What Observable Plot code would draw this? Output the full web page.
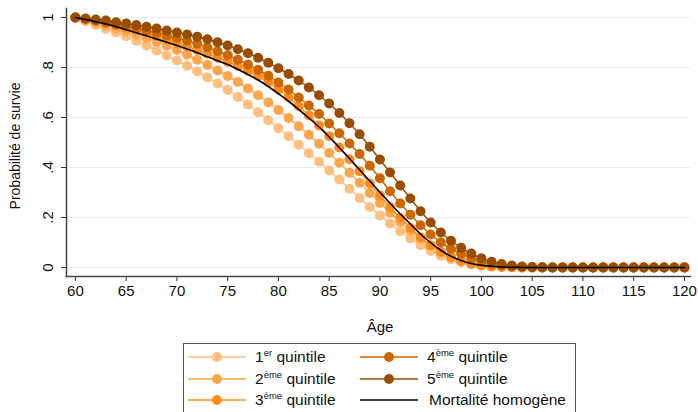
<!DOCTYPE html>
<html>
<head>
<meta charset="utf-8">
<script src="https://cdn.jsdelivr.net/npm/d3@7"></script>
<script src="https://cdn.jsdelivr.net/npm/@observablehq/plot@0.6"></script>
<style>
  body { margin: 0; background: #fff; font-family: "Liberation Sans", Arial, sans-serif; }
  #wrap { width: 698px; height: 412px; overflow: hidden; position: relative; }
  #legend { position: absolute; left: 183px; top: 343px; width: 393px; height: 80px; border: 1px solid #555; box-sizing: border-box; }
  .item { position: absolute; height: 20px; display: flex; align-items: center; font-size: 15.5px; color: #111; white-space: nowrap; }
  .item svg { margin-right: 9px; }
  sup { font-size: 9.5px; vertical-align: 0; position: relative; top: -6px; }
</style>
</head>
<body>
<div id="wrap"><div id="chart"></div><div id="legend"></div></div>
<script>
const ages = [60,61,62,63,64,65,66,67,68,69,70,71,72,73,74,75,76,77,78,79,80,81,82,83,84,85,86,87,88,89,90,91,92,93,94,95,96,97,98,99,100,101,102,103,104,105,106,107,108,109,110,111,112,113,114,115,116,117,118,119,120];

const q1 = [1.000,0.985,0.970,0.955,0.940,0.925,0.907,0.888,0.868,0.848,
            0.828,0.807,0.784,0.760,0.736,0.710,0.682,0.652,0.621,0.589,
            0.557,0.525,0.491,0.457,0.423,0.388,0.352,0.315,0.278,0.242,
            0.208,0.176,0.145,0.116,0.089,0.066,0.047,0.032,0.021,0.013,
            0.008,0.004,0.002,0.001,0,0,0,0,0,0,
            0,0,0,0,0,0,0,0,0,0,0];
const q2 = [1.000,0.990,0.980,0.969,0.957,0.945,0.932,0.918,0.903,0.887,
            0.870,0.851,0.831,0.810,0.788,0.766,0.742,0.716,0.689,0.660,
            0.630,0.598,0.565,0.531,0.495,0.458,0.419,0.379,0.339,0.298,
            0.258,0.219,0.182,0.147,0.115,0.087,0.063,0.044,0.029,0.018,
            0.010,0.005,0.003,0.001,0,0,0,0,0,0,
            0,0,0,0,0,0,0,0,0,0,0];
const q3 = [1.000,0.993,0.986,0.978,0.969,0.959,0.949,0.938,0.926,0.913,
            0.898,0.884,0.870,0.855,0.839,0.823,0.806,0.787,0.766,0.741,
            0.712,0.680,0.645,0.608,0.568,0.525,0.480,0.433,0.385,0.336,
            0.288,0.242,0.198,0.158,0.121,0.089,0.062,0.041,0.026,0.015,
            0.008,0.004,0.002,0.001,0,0,0,0,0,0,
            0,0,0,0,0,0,0,0,0,0,0];
const q4 = [1.000,0.994,0.988,0.981,0.973,0.965,0.957,0.948,0.938,0.928,
            0.918,0.907,0.895,0.881,0.865,0.849,0.831,0.812,0.791,0.767,
            0.740,0.712,0.680,0.648,0.614,0.576,0.537,0.496,0.454,0.407,
            0.357,0.305,0.256,0.211,0.169,0.132,0.100,0.075,0.055,0.037,
            0.024,0.014,0.008,0.004,0.002,0.001,0,0,0,0,
            0,0,0,0,0,0,0,0,0,0,0];
const q5 = [1.000,0.996,0.992,0.988,0.981,0.976,0.970,0.963,0.956,0.948,
            0.940,0.932,0.923,0.913,0.901,0.888,0.873,0.857,0.839,0.819,
            0.797,0.774,0.748,0.720,0.689,0.656,0.618,0.577,0.533,0.483,
            0.432,0.380,0.328,0.276,0.225,0.180,0.140,0.107,0.079,0.056,
            0.037,0.023,0.014,0.008,0.004,0.002,0.001,0,0,0,
            0,0,0,0,0,0,0,0,0,0,0];
const homog = [1.000,0.992,0.983,0.974,0.963,0.951,0.939,0.927,0.914,0.901,
            0.888,0.874,0.859,0.843,0.827,0.812,0.793,0.772,0.750,0.724,
            0.695,0.665,0.632,0.598,0.562,0.522,0.480,0.436,0.391,0.346,
            0.301,0.257,0.214,0.174,0.134,0.099,0.069,0.045,0.028,0.016,
            0.009,0.005,0.002,0.001,0,0,0,0,0,0,
            0,0,0,0,0,0,0,0,0,0,0];

const seriesNames = ["Q1","Q2","Q3","Q4","Q5"];
const seriesValues = [q1,q2,q3,q4,q5];
const seriesColors = ["#ffbf80","#ffa64d","#ff8c1a","#cc6600","#994d00"];
const legendLabels = [["1","er"],["2","ème"],["3","ème"],["4","ème"],["5","ème"]];
const homogLabel = "Mortalité homogène";
const xTicks = [60,65,70,75,80,85,90,95,100,105,110,115,120];
const yTicks = [0,0.2,0.4,0.6,0.8,1];
const yTickLabels = ["0",".2",".4",".6",".8","1"];

const rows = [];
seriesNames.forEach((s, i) => ages.forEach((a, j) => rows.push({series: s, age: a, v: seriesValues[i][j]})));
const homRows = ages.map((a, j) => ({age: a, v: homog[j]}));

const marks = [
  Plot.gridY(yTicks, {stroke: "#e4eef0", strokeOpacity: 1, strokeWidth: 1.2}),
  Plot.axisY(yTicks, {tickSize: 5, tickFormat: () => "", label: null, stroke: "#333"}),
  Plot.text(yTicks, {y: d => d, text: (d, i) => yTickLabels[i], frameAnchor: "left", dx: -18, rotate: -90, textAnchor: "middle", fontSize: 15, fill: "#111"}),
  Plot.axisX(xTicks, {tickSize: 5, tickPadding: 4, fontSize: 15, label: null, stroke: "#333", color: "#111"}),
];
seriesNames.forEach((s, i) => {
  const d = rows.filter(r => r.series === s);
  marks.push(Plot.line(d, {x: "age", y: "v", stroke: seriesColors[i], strokeWidth: 1.5}));
  marks.push(Plot.dot(d, {x: "age", y: "v", r: 5, fill: seriesColors[i], stroke: "none"}));
});
marks.push(Plot.line(homRows, {x: "age", y: "v", stroke: "#000", strokeWidth: 1.6, curve: "monotone-x"}));
marks.push(Plot.frame({anchor: "left", stroke: "#444", strokeWidth: 1.5}));
marks.push(Plot.frame({anchor: "bottom", stroke: "#444", strokeWidth: 1.5}));

const chart = Plot.plot({
  width: 698,
  height: 338,
  marginLeft: 66,
  marginRight: 8,
  marginTop: 8,
  marginBottom: 62,
  style: {fontFamily: "Liberation Sans, Arial, sans-serif", fontSize: "15px", color: "#111", background: "#fff"},
  x: {domain: [59.12, 120.6], label: null},
  y: {domain: [-0.036, 1.036], label: null},
  marks
});
document.getElementById("chart").appendChild(chart);

// axis titles (text in SVG)
const svg = d3.select(chart);
svg.append("text").attr("x", 380).attr("y", 332).attr("text-anchor", "middle")
  .attr("font-size", 15).attr("fill", "#111").text("Âge");
svg.append("text").attr("transform", "translate(20,146) rotate(-90)").attr("text-anchor", "middle")
  .attr("font-size", 14).attr("fill", "#111").text("Probabilité de survie");

// legend
const legend = document.getElementById("legend");
const positions = [[0,0],[0,1],[0,2],[1,0],[1,1]];
function swatch(color, dot) {
  return `<svg width="58" height="14"><line x1="0" y1="7" x2="58" y2="7" stroke="${color}" stroke-width="1.5"/>` +
    (dot ? `<circle cx="29" cy="7" r="5" fill="${color}"/>` : "") + `</svg>`;
}
seriesNames.forEach((s, i) => {
  const [c, r] = positions[i];
  const el = document.createElement("div");
  el.className = "item";
  el.style.left = (c ? 176 : 4) + "px";
  el.style.top = (3 + r * 21.5) + "px";
  el.innerHTML = swatch(seriesColors[i], true) + `<span>${legendLabels[i][0]}<sup>${legendLabels[i][1]}</sup> quintile</span>`;
  legend.appendChild(el);
});
const el = document.createElement("div");
el.className = "item";
el.style.left = "176px";
el.style.top = (3 + 2 * 21.5) + "px";
el.style.marginLeft = "0px";
el.innerHTML = swatch("#000", false) + `<span style="margin-left:2px">${homogLabel}</span>`;
legend.appendChild(el);
</script>
</body>
</html>
